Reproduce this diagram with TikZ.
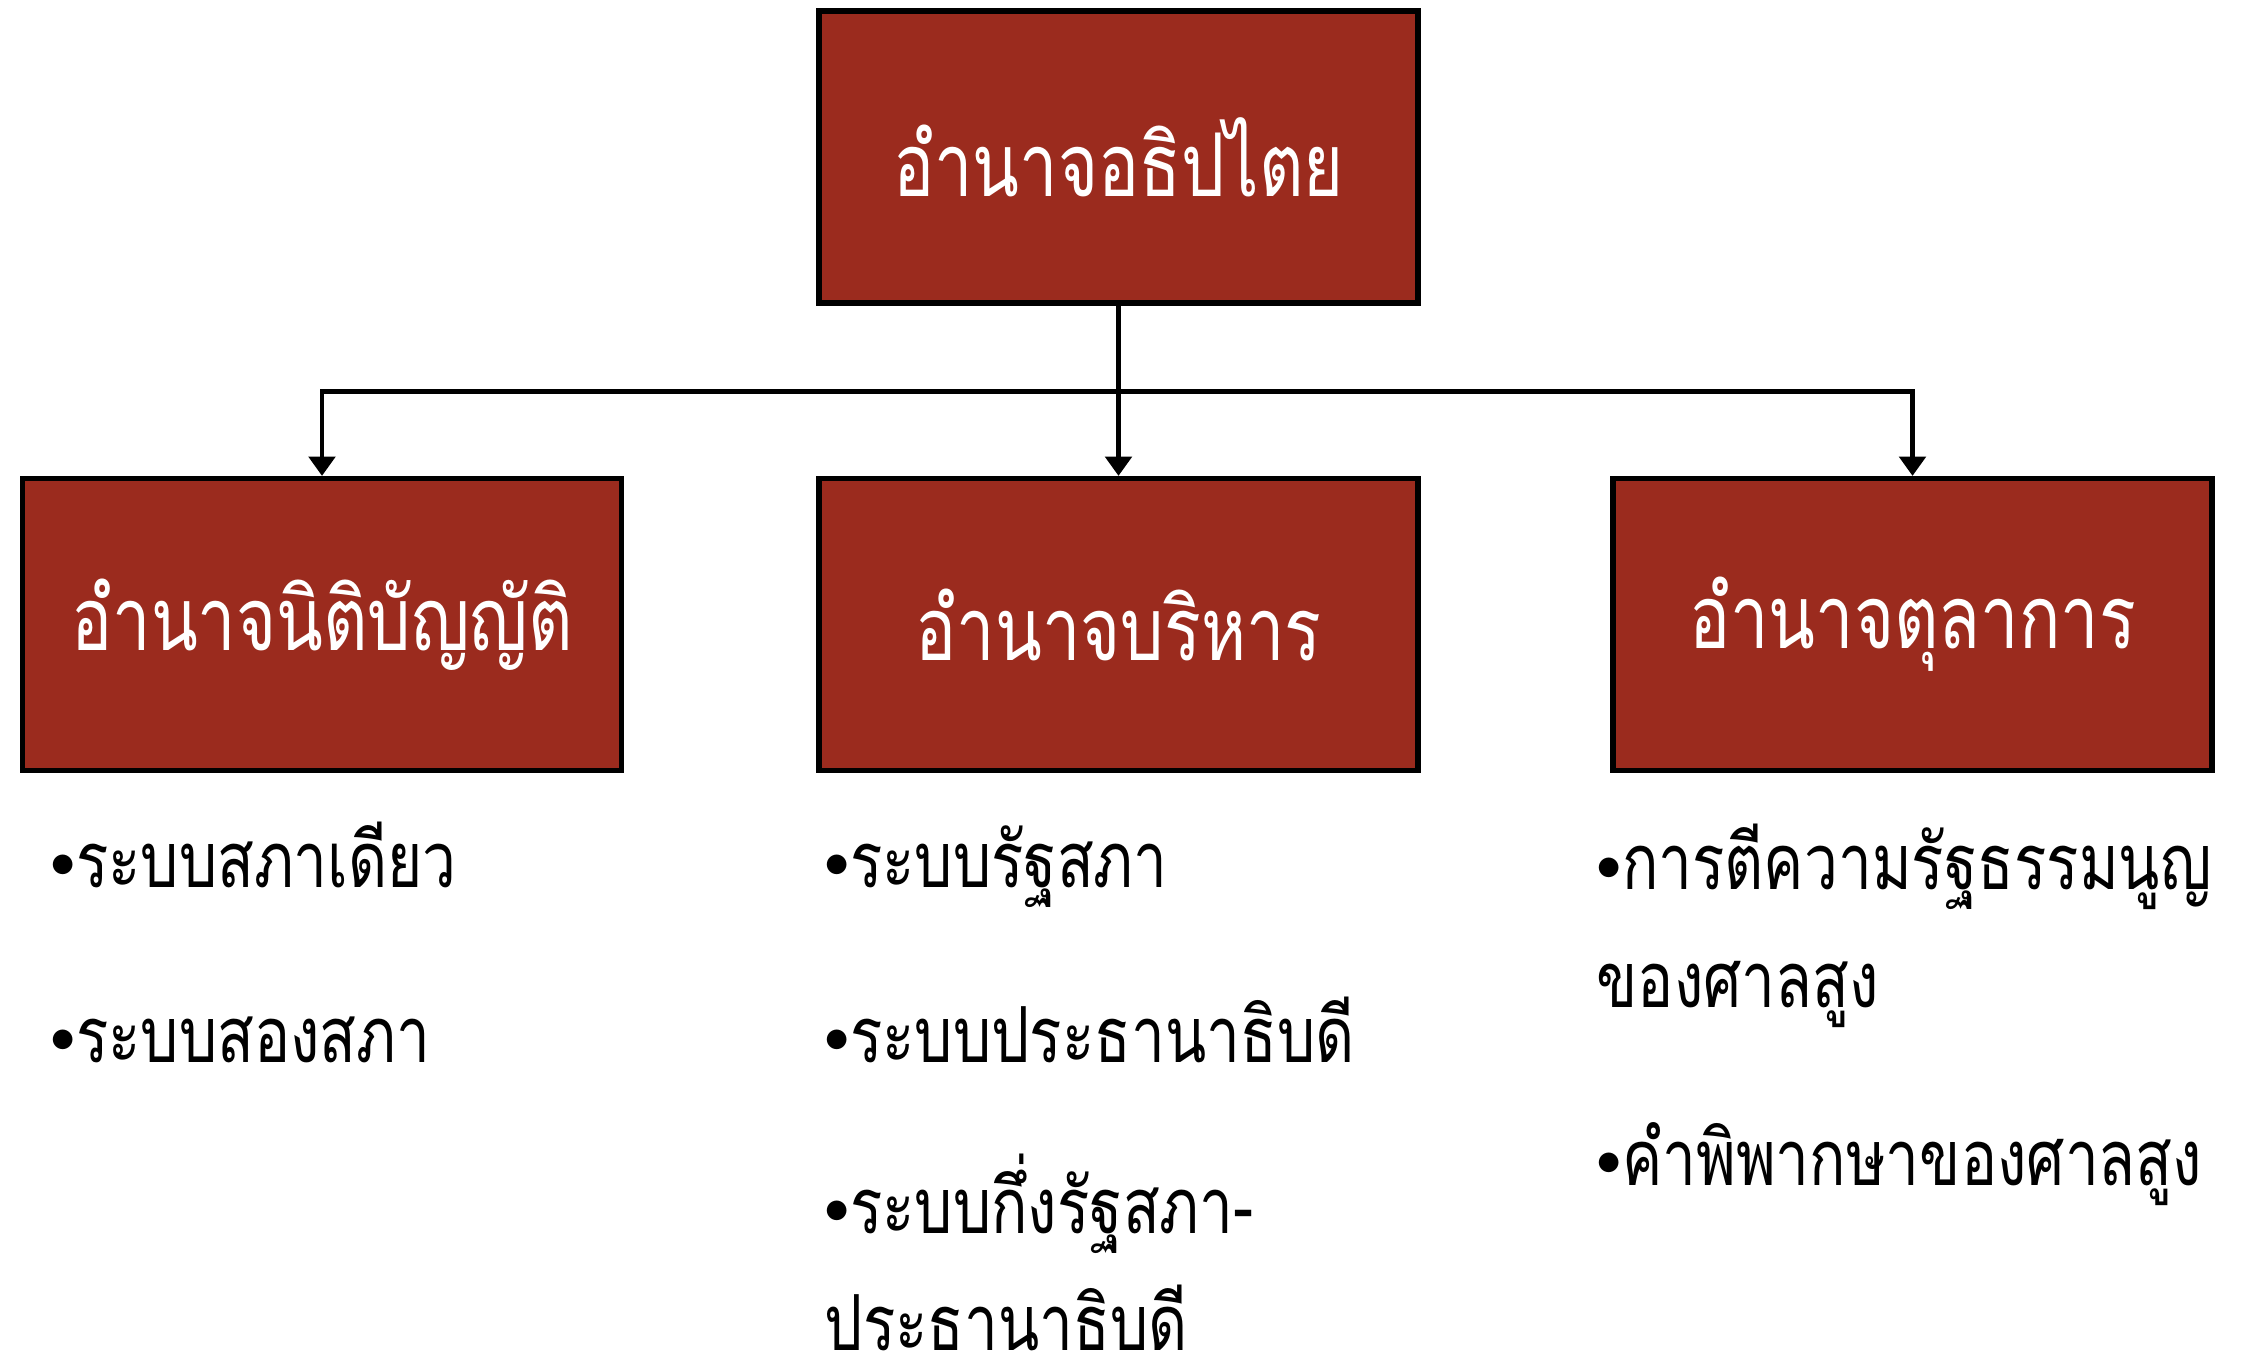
\documentclass[tikz,border=0pt]{standalone}
\usepackage{fontspec}
\usetikzlibrary{arrows.meta}
\newfontfamily\thaifont[Script=Thai,FakeStretch=0.78]{Loma}
\definecolor{boxred}{RGB}{155,43,30}
\newcommand{\itemdot}{{\fontsize{14}{14}\selectfont\raisebox{2.6pt}{$\bullet$}}}

\tikzset{
  powerbox/.style={draw=black, line width=1.5pt, fill=boxred, text=white,
    minimum width=5.99cm, minimum height=2.92cm, inner sep=0pt,
    font=\thaifont\fontsize{25}{30}\selectfont},
  itemtext/.style={anchor=base west, align=left, inner sep=0pt,
    font=\thaifont\fontsize{22}{33.3}\selectfont},
  link/.style={line width=1.25pt, -{Triangle[length=5.5pt,width=7.5pt]}},
}

\begin{document}
\begin{tikzpicture}
\useasboundingbox (0,0) rectangle (22.52,-13.64);
% boxes
\node[powerbox] (sov) at (11.185,-1.57) {อำนาจอธิปไตย};
\node[powerbox] (leg) at (3.22,-6.245) {อำนาจนิติบัญญัติ};
\node[powerbox] (exe) at (11.185,-6.245) {อำนาจบริหาร};
\node[powerbox] (jud) at (19.125,-6.245) {อำนาจตุลาการ};
% connectors
\draw[link] (sov.south) -- (exe.north);
\draw[link] (sov.south) -- ++(0,-0.86) -| (leg.north);
\draw[link] (sov.south) -- ++(0,-0.86) -| (jud.north);
% lists (base = last line)
\node[itemtext] (leg1) at (0.5,-8.87) {\itemdot ระบบสภาเดียว};
\node[itemtext] (leg2) at (0.5,-10.62) {\itemdot ระบบสองสภา};
\node[itemtext] (exe1) at (8.24,-8.87) {\itemdot ระบบรัฐสภา};
\node[itemtext] (exe2) at (8.24,-10.62) {\itemdot ระบบประธานาธิบดี};
\node[itemtext, text depth=0pt] (exe3) at (8.24,-13.5) {\itemdot ระบบกึ่งรัฐสภา-\\ประธานาธิบดี};
\node[itemtext] (jud1) at (15.96,-10.07) {\itemdot การตีความรัฐธรรมนูญ\\ของศาลสูง};
\node[itemtext] (jud2) at (15.96,-11.85) {\itemdot คำพิพากษาของศาลสูง};
\end{tikzpicture}
\end{document}
